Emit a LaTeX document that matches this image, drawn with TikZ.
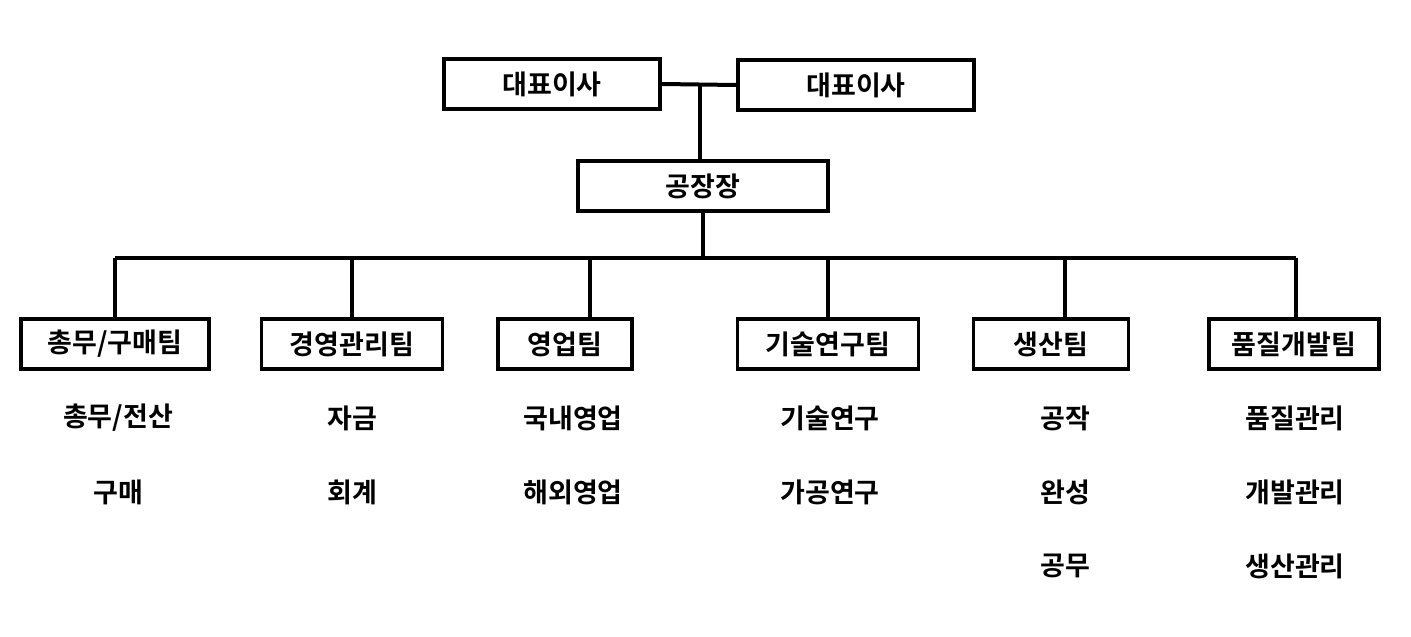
\documentclass[tikz,border=0pt]{standalone}
\usepackage{fontspec}
\newfontfamily\kr{Noto Sans CJK KR}[BoldFont={* Bold}]
\begin{document}
\begin{tikzpicture}[x=1pt,y=-1pt,
 box/.style={draw,line width=3.5pt,minimum height=50pt,inner sep=0pt,font=\kr\bfseries\fontsize{27}{29}\selectfont},
 lbl/.style={font=\kr\bfseries\fontsize{27}{29}\selectfont},
 ln/.style={line width=4pt}]
\useasboundingbox (0,0) rectangle (1411,637);
\node[box,minimum width=216pt] (ceo1) at (552,84) {대표이사};
\node[box,minimum width=236pt] (ceo2) at (856,85) {대표이사};
\node[box,minimum width=250pt] (plant) at (703,186) {공장장};
\coordinate (j) at (700,84);
\draw[ln] (ceo1.east) -- (ceo2.west);
\draw[ln] (j) -- (j|-plant.north);
\coordinate (bus) at (703,258);
\draw[ln] (plant.south) -- (bus);
\node[box,minimum width=188pt] (t1) at (115,344) {총무/구매팀};
\node[box,minimum width=181pt] (t2) at (352,344) {경영관리팀};
\node[box,minimum width=134pt] (t3) at (565,344) {영업팀};
\node[box,minimum width=181pt] (t4) at (828,344) {기술연구팀};
\node[box,minimum width=155pt] (t5) at (1051,344) {생산팀};
\node[box,minimum width=170pt] (t6) at (1294,344) {품질개발팀};
\coordinate (b1) at (115,258); \coordinate (b2) at (352,258); \coordinate (b3) at (590,258);
\coordinate (b4) at (828,258); \coordinate (b5) at (1065,258); \coordinate (b6) at (1296,258);
\draw[ln] (b1) -- (b6);
\draw[ln] (b1) -- (b1|-t1.north);
\draw[ln] (b2) -- (b2|-t2.north);
\draw[ln] (b3) -- (b3|-t3.north);
\draw[ln] (b4) -- (b4|-t4.north);
\draw[ln] (b5) -- (b5|-t5.north);
\draw[ln] (b6) -- (b6|-t6.north);
\node[lbl] (a1) at (118,418) {총무/전산};
\node[lbl] (a2) at (118,492) {구매};
\node[lbl] (c1) at (352,418) {자금};
\node[lbl] (c2) at (352,492) {회계};
\node[lbl] (d1) at (573,418) {국내영업};
\node[lbl] (d2) at (573,492) {해외영업};
\node[lbl] (e1) at (830,418) {기술연구};
\node[lbl] (e2) at (830,492) {가공연구};
\node[lbl] (f1) at (1065,418) {공작};
\node[lbl] (f2) at (1065,492) {완성};
\node[lbl] (f3) at (1065,566) {공무};
\node[lbl] (g1) at (1295,418) {품질관리};
\node[lbl] (g2) at (1295,492) {개발관리};
\node[lbl] (g3) at (1295,566) {생산관리};
\end{tikzpicture}
\end{document}
